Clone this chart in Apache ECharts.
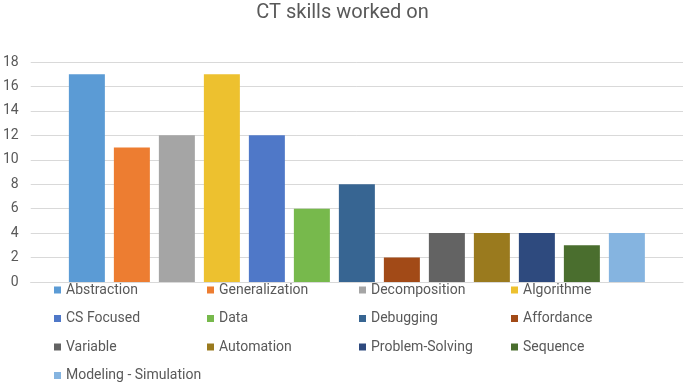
<!DOCTYPE html>
<html>
<head>
<meta charset="utf-8">
<script src="https://cdn.jsdelivr.net/npm/echarts@6/dist/echarts.min.js"></script>
<style>
  html, body { margin: 0; padding: 0; background: #fff; }
  #chart { width: 685px; height: 384px; }
</style>
</head>
<body>
<div id="chart"></div>
<script>
  // one bar per skill
  const skills = ['Abstraction', 'Generalization', 'Decomposition', 'Algorithme',
    'CS Focused', 'Data', 'Debugging', 'Affordance',
    'Variable', 'Automation', 'Problem-Solving', 'Sequence',
    'Modeling - Simulation'];
  const counts = [17, 11, 12, 17, 12, 6, 8, 2, 4, 4, 4, 3, 4];
  const colors = ['#5B9BD5', '#ED7D31', '#A5A5A5', '#EDC12F',
    '#4F78C8', '#77B94C', '#376592', '#A24A17',
    '#636363', '#9A7A1E', '#2E4A7E', '#4A6E2E',
    '#85B4E0'];
  const yTicks = { min: 0, max: 18, step: 2 };

  const font = 'Roboto, sans-serif';
  const chart = echarts.init(document.getElementById('chart'));

  // legend laid out in 4 columns like the Excel original
  const colLeft = [54, 207, 359, 511];
  const legends = colLeft.map((x, c) => ({
    orient: 'vertical',
    left: x,
    top: 283,
    height: 101,
    padding: 0,
    itemWidth: 7,
    itemHeight: 7,
    itemGap: 14.5,
    icon: 'rect',
    selectedMode: false,
    textStyle: { color: '#595959', fontSize: 14, fontFamily: font },
    data: skills.filter((s, i) => i % 4 === c)
  }));

  const option = {
    animation: false,
    color: colors,
    title: {
      text: 'CT skills worked on',
      left: 'center',
      top: -2,
      textStyle: { color: '#595959', fontSize: 20, fontWeight: 'normal', fontFamily: font }
    },
    legend: legends,
    grid: { left: 29, right: 2, top: 62, bottom: 102 },
    xAxis: {
      type: 'category',
      data: [''],
      axisLine: { show: true, lineStyle: { color: '#D9D9D9' } },
      axisTick: { show: false },
      axisLabel: { show: false }
    },
    yAxis: {
      type: 'value',
      min: yTicks.min,
      max: yTicks.max,
      interval: yTicks.step,
      axisLine: { show: false },
      axisTick: { show: false },
      axisLabel: { color: '#595959', fontSize: 14, fontFamily: font, margin: 12 },
      splitLine: { lineStyle: { color: '#D9D9D9', width: 1 } }
    },
    series: skills.map((name, i) => ({
      name: name,
      type: 'bar',
      barWidth: 36,
      barGap: '25%',
      data: [counts[i]]
    }))
  };
  chart.setOption(option);
</script>
</body>
</html>
